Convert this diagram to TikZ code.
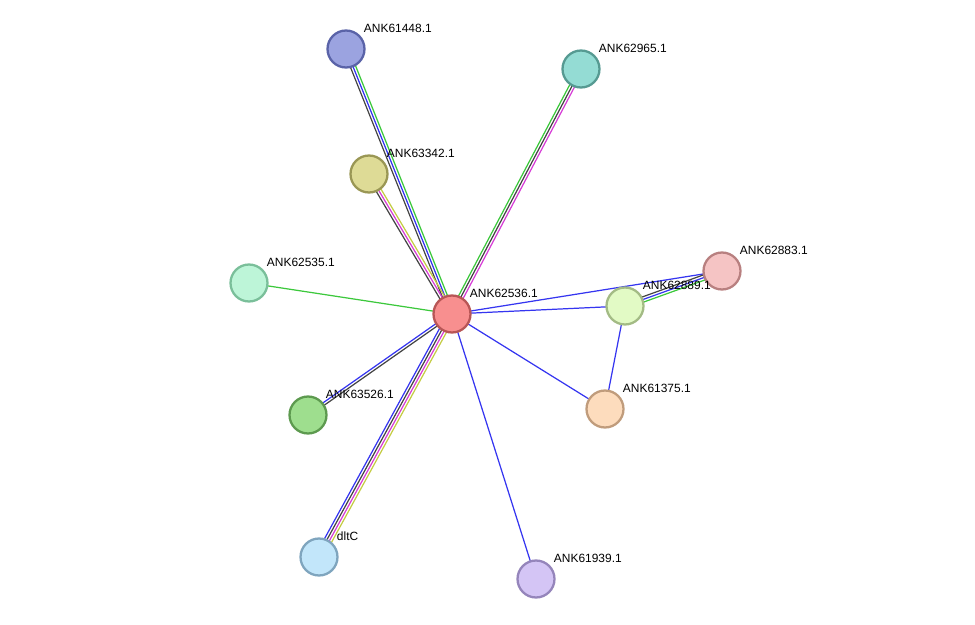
\documentclass[tikz,border=0pt]{standalone}
\usepackage{fontspec}
\setmainfont{Liberation Sans}
\usetikzlibrary{calc,backgrounds}

\definecolor{lgreen}{HTML}{3CC83C}
\definecolor{lblue}{HTML}{3535F0}
\definecolor{lblack}{HTML}{444444}
\definecolor{lpink}{HTML}{D63CD6}
\definecolor{lyellow}{HTML}{C4CC44}

\definecolor{hubf}{HTML}{F88F8F}   \definecolor{hubd}{HTML}{B85656}
\definecolor{aF}{HTML}{9BA3E0}     \definecolor{aD}{HTML}{5A63A8}
\definecolor{bF}{HTML}{94DCD4}     \definecolor{bD}{HTML}{569A92}
\definecolor{cF}{HTML}{DEDB96}     \definecolor{cD}{HTML}{9A9755}
\definecolor{dF}{HTML}{BDF5D8}     \definecolor{dD}{HTML}{7ABF9A}
\definecolor{eF}{HTML}{F5C4C4}     \definecolor{eD}{HTML}{B88080}
\definecolor{fF}{HTML}{E2FAC5}     \definecolor{fD}{HTML}{A3BB85}
\definecolor{gF}{HTML}{FDDCBD}     \definecolor{gD}{HTML}{C09C7C}
\definecolor{hF}{HTML}{9EDE8E}     \definecolor{hD}{HTML}{5D9A4F}
\definecolor{iF}{HTML}{C2E6FA}     \definecolor{iD}{HTML}{7FA5BE}
\definecolor{jF}{HTML}{D4C5F5}     \definecolor{jD}{HTML}{9585BB}

% parallel links between two proteins, one line per colour
\newcommand\linkset[3]{%
  \foreach \col [count=\i] in {#3} {\xdef\nlines{\i}}%
  \foreach \col [count=\i] in {#3} {
    \pgfmathsetmacro\off{(\i-(\nlines+1)/2)*1.5}
    \draw[link,\col] ($(#1.center)!\off pt!90:(#2.center)$) -- ($(#2.center)!\off pt!-90:(#1.center)$);
  }}

\begin{document}
\begin{tikzpicture}[x=0.02cm,y=-0.02cm,
  link/.style={line width=0.7pt},
  lbl/.style={label distance=0pt,xshift=-0.04cm,yshift=0.42cm,inner sep=0pt,font=\fontsize{6.8}{8}\selectfont},
  prot/.style n args={3}{circle,minimum size=0.74cm,inner sep=0pt,line width=1.3pt,fill=#1,draw=#2,label={[lbl]right:#3}}]
\useasboundingbox (0,0) rectangle (975,625);

% proteins
\node[prot={hubf}{hubd}{ANK62536.1}] (hub) at (452,314) {};
\node[prot={aF}{aD}{ANK61448.1}] (n61448) at (346,49) {};
\node[prot={bF}{bD}{ANK62965.1}] (n62965) at (581,69) {};
\node[prot={cF}{cD}{ANK63342.1}] (n63342) at (369,174) {};
\node[prot={dF}{dD}{ANK62535.1}] (n62535) at (249,283) {};
\node[prot={eF}{eD}{ANK62883.1}] (n62883) at (722,271) {};
\node[prot={fF}{fD}{ANK62889.1}] (n62889) at (625,306) {};
\node[prot={gF}{gD}{ANK61375.1}] (n61375) at (605,409) {};
\node[prot={hF}{hD}{ANK63526.1}] (n63526) at (308,415) {};
\node[prot={iF}{iD}{dltC}] (dltC) at (319,557) {};
\node[prot={jF}{jD}{ANK61939.1}] (n61939) at (536,579) {};

% interactions
\begin{scope}[on background layer]
\linkset{hub}{n61448}{lgreen,lblue,lblack}
\linkset{hub}{n63342}{lyellow,lpink,lblack}
\linkset{hub}{n62965}{lpink,lblack,lgreen}
\linkset{hub}{n62535}{lgreen}
\linkset{hub}{n62883}{lblue}
\linkset{hub}{n62889}{lblue}
\linkset{hub}{n61375}{lblue}
\linkset{hub}{n61939}{lblue}
\linkset{hub}{n63526}{lblue,lblack}
\linkset{hub}{dltC}{lblue,lblack,lpink,lyellow}
\linkset{n62889}{n62883}{lgreen,lblue,lblack}
\linkset{n62889}{n61375}{lblue}
\end{scope}
\end{tikzpicture}
\end{document}
